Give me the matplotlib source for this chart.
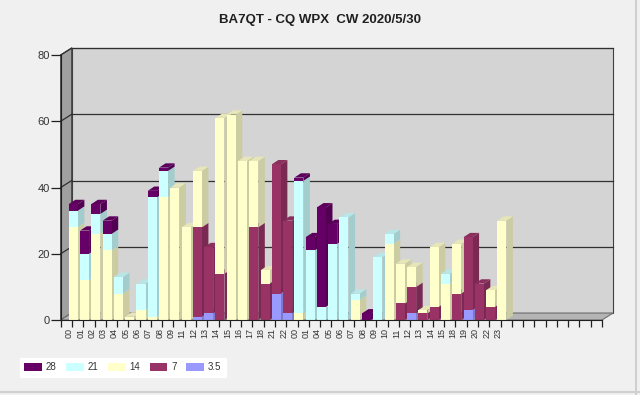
import numpy as np
import matplotlib
matplotlib.use("Agg")
import matplotlib.pyplot as plt
import matplotlib.patches as patches
from matplotlib.colors import to_rgb
from matplotlib.lines import Line2D

plt.rcParams['font.family'] = ['Liberation Sans', 'DejaVu Sans']

# hour slots (UTC) over the two days, plus empty slots to the right
hours = ["00", "01", "02", "03", "04", "05", "06", "07", "08", "09",
         "11", "12", "13", "14", "15", "16", "17", "18", "21", "22",
         "00", "01", "04", "05", "06", "07", "08", "09", "10", "11",
         "12", "13", "14", "15", "18", "19", "20", "22", "23"]
n_slots = 48

# QSOs per band, bottom of stack first
band_3_5 = [0, 0, 0, 0, 0, 0, 0, 0, 0, 0, 0, 1, 2, 0, 0, 0, 0, 0, 8, 2,
            0, 0, 0, 0, 0, 0, 0, 0, 0, 0, 2, 0, 0, 0, 0, 3, 0, 0, 0]
band_7 = [0, 0, 0, 0, 0, 0, 0, 0, 0, 0, 0, 27, 20, 14, 0, 0, 28, 11, 39, 28,
          0, 0, 0, 0, 0, 0, 0, 0, 0, 5, 8, 2, 4, 0, 8, 22, 11, 4, 0]
band_14 = [28, 12, 26, 21, 8, 1, 3, 1, 37, 40, 28, 17, 0, 47, 62, 48, 20, 4, 0, 0,
           2, 0, 0, 0, 0, 6, 0, 0, 23, 12, 6, 1, 18, 11, 15, 0, 0, 5, 30]
band_21 = [5, 8, 6, 5, 5, 0, 8, 36, 8, 0, 0, 0, 0, 0, 0, 0, 0, 0, 0, 0,
           40, 21, 4, 23, 31, 2, 0, 19, 3, 0, 0, 0, 0, 3, 0, 0, 0, 0, 0]
band_28 = [2, 7, 3, 4, 0, 0, 0, 2, 1, 0, 0, 0, 0, 0, 0, 0, 0, 0, 0, 0,
           1, 4, 30, 6, 0, 0, 2, 0, 0, 0, 0, 0, 0, 0, 0, 0, 0, 0, 0]

series = [("3.5", band_3_5, "#9999FF"),
          ("7", band_7, "#993366"),
          ("14", band_14, "#FFFFCC"),
          ("21", band_21, "#CCFFFF"),
          ("28", band_28, "#660066")]


def shade(c, f):
    return tuple(np.array(to_rgb(c)) * f)


fig = plt.figure(figsize=(6.4, 3.95), dpi=100, facecolor="#F0F0F0")
W, H = 640, 395
ax = fig.add_axes([60.7 / W, (H - 320) / H, (602 - 60.7) / W, (320 - 55) / H])
ax.set_xlim(0, n_slots)
ax.set_ylim(0, 80)
ax.patch.set_visible(False)

# 3d depth of the box and of the bars, in data units
DX, DY = 0.975, 2.1
bdx, bdy = 0.58, 1.3
bw = 0.8
shift = 1.12

# walls
left_wall = patches.Polygon([(0, 0), (0, 80), (DX, 80 + DY), (DX, DY)], closed=True,
                            fc="#A0A0A0", ec="#404040", lw=0.8, zorder=0, clip_on=False)
back_wall = patches.Rectangle((DX, DY), n_slots, 80, fc="#D4D4D4", ec="#404040",
                              lw=0.8, zorder=0, clip_on=False)
floor = patches.Polygon([(0, 0), (n_slots, 0), (n_slots + DX, DY), (DX, DY)], closed=True,
                        fc="#B4B4B4", ec="#707070", lw=0.8, zorder=0, clip_on=False)
for p in (left_wall, back_wall, floor):
    ax.add_patch(p)

for v in [20, 40, 60, 80]:
    ax.plot([0, DX], [v, v + DY], color="#303030", lw=0.9, zorder=1, clip_on=False)
    ax.plot([DX, n_slots + DX], [v + DY, v + DY], color="#303030", lw=0.9, zorder=1, clip_on=False)

# bars: side and top faces, then fronts
xs = np.arange(len(hours)) + shift
bottom = np.zeros(len(hours))
for name, vals, col in series:
    vals = np.array(vals, dtype=float)
    for i in range(len(hours)):
        v = vals[i]
        if v <= 0:
            continue
        x0 = xs[i] - bw / 2
        b = bottom[i]
        side = patches.Polygon([(x0 + bw, b), (x0 + bw + bdx, b + bdy),
                                (x0 + bw + bdx, b + v + bdy), (x0 + bw, b + v)],
                               closed=True, fc=shade(col, 0.8), ec="none", zorder=2 + i * 0.01)
        top = patches.Polygon([(x0, b + v), (x0 + bdx, b + v + bdy),
                               (x0 + bw + bdx, b + v + bdy), (x0 + bw, b + v)],
                              closed=True, fc=shade(col, 0.9), ec="none", zorder=2 + i * 0.01)
        ax.add_patch(side)
        ax.add_patch(top)
    ax.bar(xs, vals, bw, bottom=bottom, color=col, zorder=3, linewidth=0)
    bottom += vals

# axes
for s in ["top", "right"]:
    ax.spines[s].set_visible(False)
ax.spines["left"].set_color("#202020")
ax.spines["bottom"].set_color("#202020")
ax.spines["left"].set_zorder(4)
ax.spines["bottom"].set_zorder(4)

ax.set_yticks([0, 20, 40, 60, 80])
ax.tick_params(axis="y", length=7, width=0.9, color="#202020", labelsize=8,
               labelcolor="#333333", pad=1)
ax.set_xticks(np.arange(0, n_slots + 1))
ax.set_xticklabels([])
ax.set_xticks(np.arange(len(hours)) + 0.78, minor=True)
ax.set_xticklabels(hours, minor=True, rotation=90, fontsize=6.5, color="#333333")
ax.tick_params(axis="x", which="major", length=5, width=0.9, color="#202020")
ax.tick_params(axis="x", which="minor", length=0, pad=6)

fig.suptitle("BA7QT - CQ WPX  CW 2020/5/30", x=0.5, y=1 - 20 / H, va="center",
             fontsize=9.5, fontweight="bold", color="#202020")

handles = [patches.Patch(fc=col, ec="none", label=name) for name, vals, col in series[::-1]]
leg = fig.legend(handles=handles, loc="upper left", bbox_to_anchor=(20 / W, 1 - 358 / H),
                 ncol=5, fontsize=7, frameon=True, fancybox=False, facecolor="white",
                 edgecolor="white", framealpha=1, handlelength=1.8, handleheight=0.8,
                 handletextpad=0.4, columnspacing=1.0, borderpad=0.45, borderaxespad=0)
for t in leg.get_texts():
    t.set_color("#333333")

# chart frame lines
fig.add_artist(Line2D([0, 1], [3 / H, 3 / H], color="#D0D0D0", lw=1.5))
fig.add_artist(Line2D([1 - 4 / W, 1 - 4 / W], [0, 1], color="#D0D0D0", lw=1.5))

fig.savefig("out.png", dpi=100, facecolor=fig.get_facecolor())
